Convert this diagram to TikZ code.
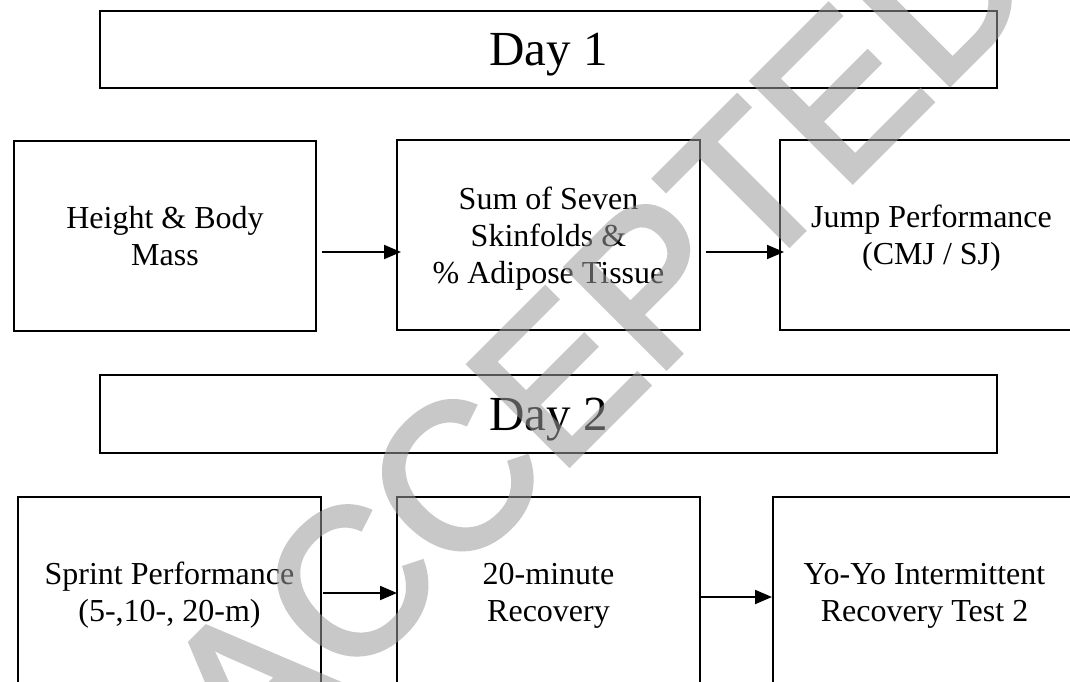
\documentclass[tikz,border=0pt]{standalone}
\usepackage{fontspec}
\setmainfont{Liberation Serif}
\newfontfamily\wmfont[FakeBold=2.5]{Liberation Sans}
\usetikzlibrary{arrows.meta}
\definecolor{wm}{RGB}{155,155,155}
\begin{document}
\begin{tikzpicture}[x=1pt,y=-1pt,
  daybox/.style={draw=black, line width=2pt, minimum width=897pt, minimum height=77pt, inner sep=0pt, text height=40pt, text depth=7pt, font=\fontsize{49}{52}\selectfont},
  stepbox/.style={draw=black, line width=2pt, minimum width=303pt, minimum height=190pt, inner sep=0pt, text depth=0pt, align=center, font=\fontsize{32}{37}\selectfont},
  arr/.style={line width=2pt, -{Triangle[length=17pt,width=14pt]}},
  wmark/.style={rotate=45, anchor=base west, inner sep=0pt, text=wm, font=\wmfont\fontsize{206}{206}\selectfont}]
\useasboundingbox (0,0) rectangle (1070,682);
\clip (0,0) rectangle (1070,682);
\fill[white] (0,0) rectangle (1070,682);

\node[daybox] (d1) at (548.5,49.5) {Day 1};
\node[stepbox, minimum width=302pt] (b1) at (165,236) {Height \& Body\\Mass};
\node[stepbox] (b2) at (548.5,235) {Sum of Seven\\Skinfolds \&\\\% Adipose Tissue};
\node[stepbox] (b3) at (931.5,235) {Jump Performance\\(CMJ / SJ)};

\node[daybox, minimum height=78pt] (d2) at (548.5,414) {Day 2};
\node[stepbox] (b4) at (169.5,592) {Sprint Performance\\(5-,10-, 20-m)};
\node[stepbox] (b5) at (548.5,592) {20-minute\\Recovery};
\node[stepbox] (b6) at (924.5,592) {Yo-Yo Intermittent\\Recovery Test 2};

\draw[arr] ([xshift=5pt,yshift=-16pt]b1.east) -- ([xshift=5pt,yshift=-16pt]b1.east -| b2.west);
\draw[arr] ([xshift=5pt,yshift=-17pt]b2.east) -- ([xshift=5pt,yshift=-17pt]b2.east -| b3.west);
\draw[arr] ([xshift=1pt,yshift=-1pt]b4.east) -- ([xshift=1pt,yshift=-1pt]b4.east -| b5.west);
\draw[arr] ([yshift=-5pt]b5.east) -- ([yshift=-5pt]b5.east -| b6.west);

\begin{scope}[transparency group, opacity=0.55]
\node[wmark] (wm) at (249.9,784.1) {ACCEPTED};
\end{scope}
\end{tikzpicture}
\end{document}
